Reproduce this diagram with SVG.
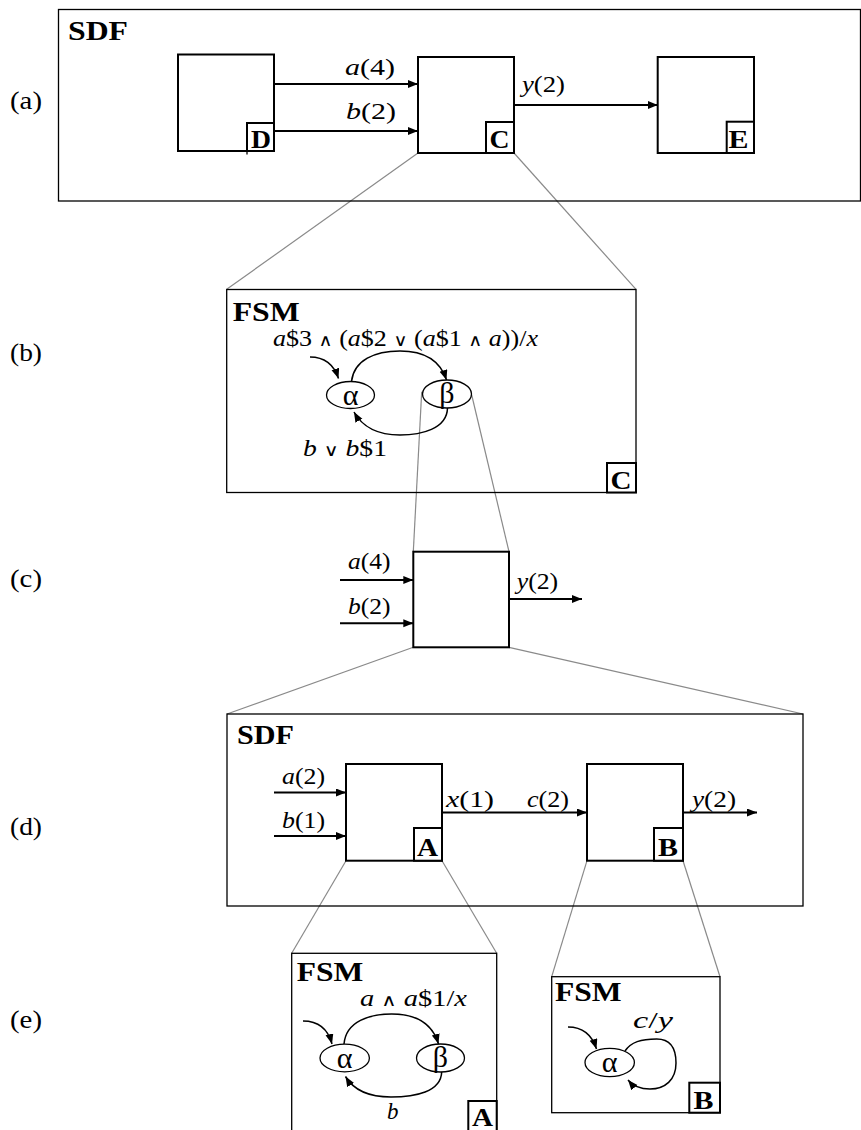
<svg xmlns="http://www.w3.org/2000/svg" width="861" height="1130" viewBox="0 0 861 1130" font-family="'Liberation Serif', 'Times New Roman', serif">
<style>
.cont{fill:none;stroke:#000;stroke-width:1.3}
.node{fill:#fff;stroke:#000;stroke-width:2}
.lbl{fill:#fff;stroke:#000;stroke-width:2}
.zoom{fill:none;stroke:#8a8a8a;stroke-width:1.2}
.edge{fill:none;stroke:#000;stroke-width:2;marker-end:url(#ah)}
.cur{fill:none;stroke:#000;stroke-width:1.5;marker-end:url(#ah2)}
.st{fill:none;stroke:#000;stroke-width:1.3}
text{font-family:'Liberation Serif','Times New Roman',serif;fill:#000}
.title{font-size:27px;font-weight:bold}
.nl{font-size:25px;font-weight:bold}
.el{font-size:23px}
.row{font-size:26px}
.gr{font-size:30px;text-anchor:middle}
.i{font-style:italic}
.op{font-family:'DejaVu Sans',sans-serif;font-size:17px;font-weight:normal}
</style>
<defs>
<marker id="ah" markerUnits="userSpaceOnUse" markerWidth="11" markerHeight="9" refX="10" refY="4" orient="auto"><path d="M0,0 L10,4 L0,8 z" fill="#000"/></marker>
<marker id="ah2" markerUnits="userSpaceOnUse" markerWidth="11" markerHeight="9" refX="10" refY="4" orient="auto"><path d="M0,0 L10,4 L0,8 z" fill="#000"/></marker>
</defs>

<g id="row-labels">
<text class="row" x="10" y="109" textLength="32" lengthAdjust="spacingAndGlyphs">(a)</text>
<text class="row" x="10" y="361" textLength="32" lengthAdjust="spacingAndGlyphs">(b)</text>
<text class="row" x="10" y="587" textLength="32" lengthAdjust="spacingAndGlyphs">(c)</text>
<text class="row" x="10" y="835" textLength="32" lengthAdjust="spacingAndGlyphs">(d)</text>
<text class="row" x="10" y="1028" textLength="32" lengthAdjust="spacingAndGlyphs">(e)</text>
</g>

<g id="zoom-lines">
<line class="zoom" x1="418" y1="153" x2="226.7" y2="289.3"/>
<line class="zoom" x1="514" y1="153" x2="636" y2="289.3"/>
<line class="zoom" x1="421.7" y1="391.7" x2="413.3" y2="551.7"/>
<line class="zoom" x1="471.7" y1="395" x2="509" y2="551.7"/>
<line class="zoom" x1="413.3" y1="647.3" x2="227" y2="714"/>
<line class="zoom" x1="509" y1="647.3" x2="803" y2="714"/>
<line class="zoom" x1="346" y1="860.7" x2="291.7" y2="953.3"/>
<line class="zoom" x1="442" y1="860.7" x2="496.7" y2="953.3"/>
<line class="zoom" x1="587" y1="860.7" x2="551.7" y2="976.7"/>
<line class="zoom" x1="683" y1="860.7" x2="720" y2="976.7"/>
</g>

<g id="sdf-a">
<rect class="cont" x="58.5" y="9.5" width="802" height="191.5"/>
<text class="title" x="68" y="39.5" textLength="60" lengthAdjust="spacingAndGlyphs">SDF</text>
</g>
<g id="node-D">
<rect class="node" x="178" y="54.5" width="96" height="96.5"/>
<rect class="lbl" x="247" y="123" width="27" height="28"/>
<line class="st" x1="247" y1="151" x2="247" y2="154.5" stroke-width="2"/>
<text class="nl" x="251" y="147.5" textLength="20" lengthAdjust="spacingAndGlyphs">D</text>
</g>
<g id="node-C">
<rect class="node" x="418" y="57" width="96" height="96"/>
<rect class="lbl" x="486" y="122" width="28" height="31"/>
<text class="nl" x="489.5" y="147.5" textLength="20" lengthAdjust="spacingAndGlyphs">C</text>
</g>
<g id="node-E">
<rect class="node" x="657.7" y="57" width="96.3" height="96"/>
<rect class="lbl" x="726.7" y="121.7" width="27.3" height="31.3"/>
<text class="nl" x="728.5" y="147.5" textLength="20" lengthAdjust="spacingAndGlyphs">E</text>
</g>

<g id="fsm-b">
<rect class="cont" x="226.7" y="289.5" width="409.3" height="203"/>
<text class="title" x="232.7" y="320.5" textLength="67" lengthAdjust="spacingAndGlyphs">FSM</text>
<rect class="lbl" x="607" y="463" width="29" height="29.5"/>
<text class="nl" x="610.5" y="488.5" textLength="21" lengthAdjust="spacingAndGlyphs">C</text>
</g>
<g id="state-b-alpha">
<ellipse class="st" cx="350.5" cy="395" rx="24" ry="13.5"/>
<text class="gr" x="350.5" y="404.5">α</text>
</g>
<g id="state-b-beta">
<ellipse class="st" cx="447" cy="394" rx="24.5" ry="14"/>
<text class="gr" x="447" y="402.5">β</text>
</g>

<g id="actor-c">
<rect class="node" x="413.3" y="551.7" width="95.7" height="95.6"/>
</g>

<g id="sdf-d">
<rect class="cont" x="227" y="714" width="576" height="192"/>
<text class="title" x="237" y="743.5" textLength="57" lengthAdjust="spacingAndGlyphs">SDF</text>
</g>
<g id="node-A">
<rect class="node" x="346" y="764" width="96" height="96.7"/>
<rect class="lbl" x="414" y="828" width="28" height="32.7"/>
<text class="nl" x="417" y="856" textLength="21" lengthAdjust="spacingAndGlyphs">A</text>
</g>
<g id="node-B">
<rect class="node" x="587" y="764" width="96" height="96.7"/>
<rect class="lbl" x="654" y="828" width="29" height="32.7"/>
<text class="nl" x="658" y="856" textLength="20" lengthAdjust="spacingAndGlyphs">B</text>
</g>

<g id="fsm-eA">
<rect class="cont" x="291.7" y="953.3" width="205" height="190"/>
<text class="title" x="296.7" y="981" textLength="66.6" lengthAdjust="spacingAndGlyphs">FSM</text>
<rect class="lbl" x="468.3" y="1101" width="28.4" height="40"/>
<text class="nl" x="472" y="1125.5" textLength="21" lengthAdjust="spacingAndGlyphs">A</text>
</g>
<g id="state-eA-alpha">
<ellipse class="st" cx="344.7" cy="1058" rx="24.7" ry="13.8"/>
<text class="gr" x="344.7" y="1067.5">α</text>
</g>
<g id="state-eA-beta">
<ellipse class="st" cx="440.5" cy="1058" rx="24" ry="14"/>
<text class="gr" x="440.5" y="1066.5">β</text>
</g>

<g id="fsm-eB">
<rect class="cont" x="551.7" y="976.7" width="168.3" height="136"/>
<text class="title" x="555" y="1001" textLength="66.7" lengthAdjust="spacingAndGlyphs">FSM</text>
<rect class="lbl" x="689.3" y="1082.7" width="30.7" height="30"/>
<text class="nl" x="693.5" y="1108.5" textLength="20" lengthAdjust="spacingAndGlyphs">B</text>
</g>
<g id="state-eB-alpha">
<ellipse class="st" cx="609.7" cy="1062.5" rx="24.7" ry="14.2"/>
<text class="gr" x="609.7" y="1072">α</text>
</g>

<g id="connectors">
<line class="edge" x1="274" y1="84" x2="418" y2="84"/>
<line class="edge" x1="274" y1="131" x2="418" y2="131"/>
<line class="edge" x1="514" y1="105" x2="657.7" y2="105"/>
<path class="cur" d="M310,357 C325,357 334,365 338.5,378.5"/>
<path class="cur" d="M351.5,381.5 C354,360 375,351 400,351 C424,351 440,360 446.5,380"/>
<path class="cur" d="M447.5,408 C447,429 421,435 400,435 C380,435 363,428 354,412"/>
<line class="edge" x1="340" y1="580" x2="413.3" y2="580"/>
<line class="edge" x1="340" y1="623.3" x2="413.3" y2="623.3"/>
<line class="edge" x1="509" y1="599" x2="582" y2="599"/>
<line class="edge" x1="274" y1="792.5" x2="346" y2="792.5"/>
<line class="edge" x1="274" y1="836" x2="346" y2="836"/>
<line class="edge" x1="442" y1="812.5" x2="587" y2="812.5"/>
<line class="edge" x1="683" y1="812.5" x2="757" y2="812.5"/>
<path class="cur" d="M303,1021 C318,1021 328,1029 332,1044"/>
<path class="cur" d="M344,1044 C346,1021 370,1014 391.7,1014 C415,1014 432,1022 438.5,1044"/>
<path class="cur" d="M441.7,1072 C441,1092 415,1097 391,1097 C368,1097 353,1089 345.5,1076.5"/>
<path class="cur" d="M568,1027 C583,1027 592,1035 596.5,1049"/>
<path class="cur" d="M625,1051 C631,1042 641,1039 656.7,1039 C672,1039 676,1050 676,1063 C676,1080 665,1089 650,1089 C640,1089 633,1086 628,1080"/>
</g>

<g id="edge-labels">
<text class="el" x="345" y="75" textLength="50" lengthAdjust="spacingAndGlyphs"><tspan class="i">a</tspan>(4)</text>
<text class="el" x="346" y="119" textLength="50" lengthAdjust="spacingAndGlyphs"><tspan class="i">b</tspan>(2)</text>
<text class="el" x="522" y="92" textLength="43" lengthAdjust="spacingAndGlyphs"><tspan class="i">y</tspan>(2)</text>
<text class="el" x="273" y="346" textLength="265" lengthAdjust="spacingAndGlyphs"><tspan class="i">a</tspan>$3 <tspan class="op">∧</tspan> (<tspan class="i">a</tspan>$2 <tspan class="op">∨</tspan> (<tspan class="i">a</tspan>$1 <tspan class="op">∧</tspan> <tspan class="i">a</tspan>))/<tspan class="i">x</tspan></text>
<text class="el" x="303" y="456" textLength="84" lengthAdjust="spacingAndGlyphs"><tspan class="i">b</tspan> <tspan class="op">∨</tspan> <tspan class="i">b</tspan>$1</text>
<text class="el" x="348" y="569" textLength="42.5" lengthAdjust="spacingAndGlyphs"><tspan class="i">a</tspan>(4)</text>
<text class="el" x="348" y="614" textLength="42.5" lengthAdjust="spacingAndGlyphs"><tspan class="i">b</tspan>(2)</text>
<text class="el" x="516.7" y="589" textLength="41.5" lengthAdjust="spacingAndGlyphs"><tspan class="i">y</tspan>(2)</text>
<text class="el" x="282" y="784" textLength="43" lengthAdjust="spacingAndGlyphs"><tspan class="i">a</tspan>(2)</text>
<text class="el" x="282" y="828" textLength="43" lengthAdjust="spacingAndGlyphs"><tspan class="i">b</tspan>(1)</text>
<text class="el" x="446" y="807" textLength="48" lengthAdjust="spacingAndGlyphs"><tspan class="i">x</tspan>(1)</text>
<text class="el" x="527" y="807" textLength="42" lengthAdjust="spacingAndGlyphs"><tspan class="i">c</tspan>(2)</text>
<text class="el" x="692" y="807" textLength="44" lengthAdjust="spacingAndGlyphs"><tspan class="i">y</tspan>(2)</text>
<text class="el" x="360" y="1006" textLength="107" lengthAdjust="spacingAndGlyphs"><tspan class="i">a</tspan> <tspan class="op">∧</tspan> <tspan class="i">a</tspan>$1/<tspan class="i">x</tspan></text>
<text class="el" x="387" y="1119"><tspan class="i">b</tspan></text>
<text class="el" x="633" y="1028" textLength="40" lengthAdjust="spacingAndGlyphs"><tspan class="i">c</tspan>/<tspan class="i">y</tspan></text>
</g>
</svg>
